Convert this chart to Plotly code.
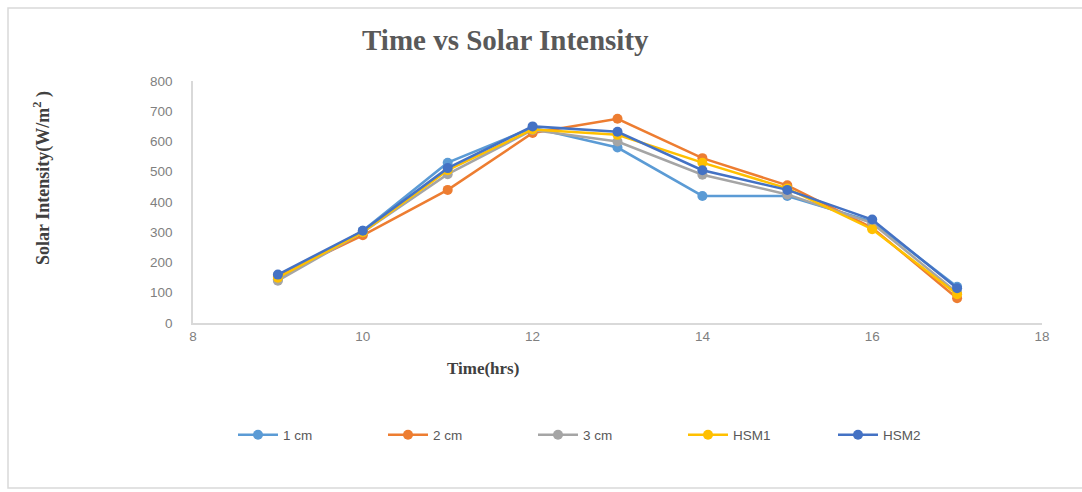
import plotly.graph_objects as go

# Hour of day
hours = [9, 10, 11, 12, 13, 14, 15, 16, 17]

# Solar intensity (W/m²) per configuration
cm1 = [145, 305, 530, 645, 580, 420, 420, 335, 120]
cm2 = [155, 290, 440, 628, 675, 545, 455, 315, 82]
cm3 = [140, 300, 492, 638, 600, 490, 425, 330, 100]
hsm1 = [150, 300, 505, 640, 622, 530, 445, 310, 95]
hsm2 = [160, 305, 512, 650, 632, 505, 440, 342, 115]

series_names = ["1 cm", "2 cm", "3 cm", "HSM1", "HSM2"]
series_values = [cm1, cm2, cm3, hsm1, hsm2]
series_colors = ["#5B9BD5", "#ED7D31", "#A5A5A5", "#FFC000", "#4472C4"]

x_ticks = [8, 10, 12, 14, 16, 18]
y_ticks = [0, 100, 200, 300, 400, 500, 600, 700, 800]

fig = go.Figure()
for name, vals, col in zip(series_names, series_values, series_colors):
    fig.add_trace(go.Scatter(
        x=hours, y=vals, name=name, mode="lines+markers",
        line=dict(color=col, width=2.5),
        marker=dict(color=col, size=10, symbol="circle"),
    ))

W, H = 1082, 492
ml, mr, mt, mb = 193, 40, 81, 169
pw = W - ml - mr
ph = H - mt - mb

def px_x(p):
    return (p - ml) / pw

def px_y(p):
    return (H - mb - p) / ph

tick_font = dict(family="Liberation Sans, Arial, sans-serif", size=13.5, color="#7F7F7F")
serif_bold = "Liberation Serif, Times New Roman, serif"

fig.update_layout(
    width=W, height=H,
    margin=dict(l=ml, r=mr, t=mt, b=mb),
    paper_bgcolor="white", plot_bgcolor="white",
    showlegend=True,
    legend=dict(
        orientation="h", x=px_x(233), y=px_y(435),
        xanchor="left", yanchor="middle",
        font=dict(family="Liberation Sans, Arial, sans-serif", size=13.5, color="#595959"),
        entrywidth=95, entrywidthmode="pixels",
        itemwidth=40,
    ),
    xaxis=dict(
        range=[8, 18], tickvals=x_ticks, showgrid=False, zeroline=False,
        showline=True, linecolor="#D9D9D9", linewidth=2,
        tickfont=tick_font, ticks="",
    ),
    yaxis=dict(
        range=[0, 800], tickvals=y_ticks, showgrid=False, zeroline=False,
        showline=True, linecolor="#D9D9D9", linewidth=1.5,
        tickfont=tick_font, ticks="", ticklabelstandoff=16,
    ),
    shapes=[dict(
        type="rect", xref="paper", yref="paper",
        x0=px_x(8), x1=px_x(1090), y0=px_y(488), y1=px_y(8),
        line=dict(color="#D9D9D9", width=1.5), fillcolor="rgba(0,0,0,0)",
        layer="below",
    )],
    annotations=[
        dict(text="<b>Time vs Solar Intensity</b>", xref="paper", yref="paper",
             x=px_x(505), y=px_y(40), showarrow=False,
             xanchor="center", yanchor="middle",
             font=dict(family=serif_bold, size=29, color="#595959")),
        dict(text="<b>Time(hrs)</b>", xref="paper", yref="paper",
             x=px_x(483), y=px_y(368), showarrow=False,
             xanchor="center", yanchor="middle",
             font=dict(family=serif_bold, size=17, color="#404040")),
        dict(text="<b>Solar Intensity(W/m<sup>2</sup> )</b>", xref="paper", yref="paper",
             x=px_x(42), y=px_y(178), showarrow=False, textangle=-90,
             xanchor="center", yanchor="middle",
             font=dict(family=serif_bold, size=18, color="#404040")),
    ],
)

fig.write_html("out.html")
